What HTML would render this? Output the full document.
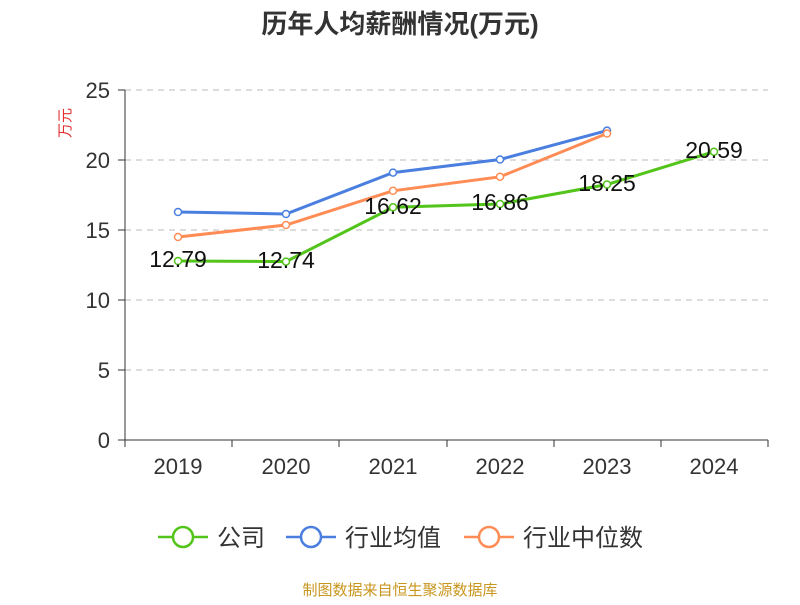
<!DOCTYPE html>
<html><head><meta charset="utf-8"><style>body{margin:0;background:#fff}</style></head><body>
<svg width="800" height="600" xmlns="http://www.w3.org/2000/svg" font-family="Liberation Sans, Noto Sans CJK SC, sans-serif">
<text x="400" y="33" text-anchor="middle" font-size="26" font-weight="bold" fill="#333">历年人均薪酬情况(万元)</text>
<text transform="translate(70,123) rotate(-90)" text-anchor="middle" font-size="15" fill="#e03030">万元</text>
<g stroke="#bbb" stroke-dasharray="6,5" stroke-width="1">
<line x1="125" x2="768" y1="90" y2="90"/><line x1="125" x2="768" y1="160" y2="160"/><line x1="125" x2="768" y1="230" y2="230"/><line x1="125" x2="768" y1="300" y2="300"/><line x1="125" x2="768" y1="370" y2="370"/>
</g>
<g stroke="#333" stroke-width="1">
<line x1="125" x2="125" y1="90" y2="440"/><line x1="125" x2="768" y1="440" y2="440"/>
<line x1="118" x2="125" y1="90" y2="90"/><line x1="118" x2="125" y1="160" y2="160"/><line x1="118" x2="125" y1="230" y2="230"/><line x1="118" x2="125" y1="300" y2="300"/><line x1="118" x2="125" y1="370" y2="370"/><line x1="118" x2="125" y1="440" y2="440"/>
<line x1="125" x2="125" y1="440" y2="447"/><line x1="232" x2="232" y1="440" y2="447"/><line x1="339" x2="339" y1="440" y2="447"/><line x1="447" x2="447" y1="440" y2="447"/><line x1="554" x2="554" y1="440" y2="447"/><line x1="661" x2="661" y1="440" y2="447"/><line x1="768" x2="768" y1="440" y2="447"/>
</g>
<g font-size="22" fill="#333" text-anchor="end">
<text x="110" y="98">25</text><text x="110" y="168">20</text><text x="110" y="238">15</text><text x="110" y="308">10</text><text x="110" y="378">5</text><text x="110" y="448">0</text>
</g>
<g font-size="22" fill="#333" text-anchor="middle">
<text x="178" y="474">2019</text><text x="286" y="474">2020</text><text x="393" y="474">2021</text><text x="500" y="474">2022</text><text x="607" y="474">2023</text><text x="714" y="474">2024</text>
</g>
<polyline fill="none" stroke="#4a7fe0" stroke-width="3" points="178,212 286,214 393,172.6 500,159.5 607,130.6"/>
<polyline fill="none" stroke="#ff8c55" stroke-width="3" points="178,237 286,225 393,190.8 500,176.8 607,133.5"/>
<polyline fill="none" stroke="#52c41a" stroke-width="3" points="178,261 286,261.6 393,207.3 500,204 607,184.5 714,151.7"/>
<g fill="#fff" stroke-width="1.5">
<g stroke="#4a7fe0"><circle cx="178" cy="212" r="3.5"/><circle cx="286" cy="214" r="3.5"/><circle cx="393" cy="172.6" r="3.5"/><circle cx="500" cy="159.5" r="3.5"/><circle cx="607" cy="130.6" r="3.5"/></g>
<g stroke="#ff8c55"><circle cx="178" cy="237" r="3.5"/><circle cx="286" cy="225" r="3.5"/><circle cx="393" cy="190.8" r="3.5"/><circle cx="500" cy="176.8" r="3.5"/><circle cx="607" cy="133.5" r="3.5"/></g>
<g stroke="#52c41a"><circle cx="178" cy="261" r="3.5"/><circle cx="286" cy="261.6" r="3.5"/><circle cx="393" cy="207.3" r="3.5"/><circle cx="500" cy="204" r="3.5"/><circle cx="607" cy="184.5" r="3.5"/><circle cx="714" cy="151.7" r="3.5"/></g>
</g>
<g font-size="23" fill="#111" text-anchor="middle">
<text x="178" y="267">12.79</text><text x="286" y="268">12.74</text><text x="393" y="214">16.62</text><text x="500" y="210">16.86</text><text x="607" y="191">18.25</text><text x="714" y="158">20.59</text>
</g>
<g stroke-width="2.5" fill="#fff">
<line x1="158" x2="208" y1="537" y2="537" stroke="#52c41a"/><circle cx="183" cy="537" r="10" stroke="#52c41a"/>
<line x1="286" x2="336" y1="537" y2="537" stroke="#4a7fe0"/><circle cx="311" cy="537" r="10" stroke="#4a7fe0"/>
<line x1="464" x2="514" y1="537" y2="537" stroke="#ff8c55"/><circle cx="489" cy="537" r="10" stroke="#ff8c55"/>
</g>
<g font-size="24" fill="#333">
<text x="217" y="546">公司</text><text x="345" y="546">行业均值</text><text x="523" y="546">行业中位数</text>
</g>
<text x="400" y="595" text-anchor="middle" font-size="15" fill="#c8961e">制图数据来自恒生聚源数据库</text>
</svg>
</body></html>
